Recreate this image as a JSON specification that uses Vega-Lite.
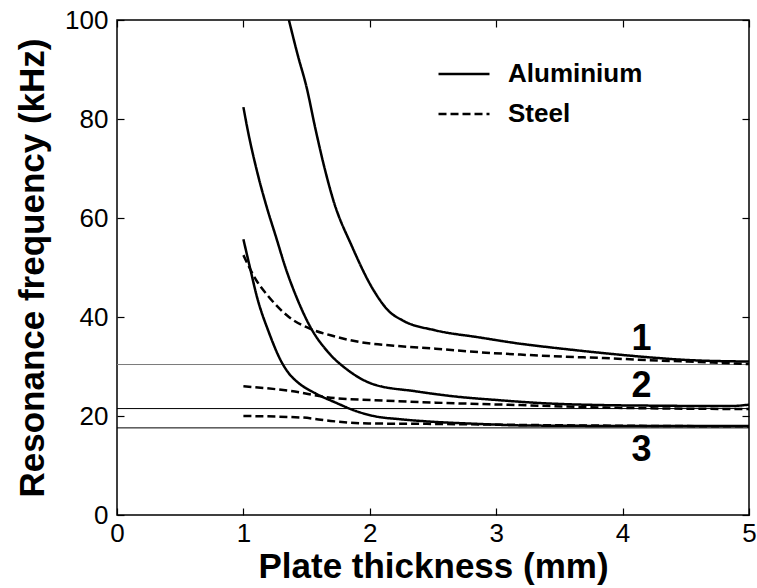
{
  "$schema": "https://vega.github.io/schema/vega-lite/v6.json",
  "width": 632,
  "height": 495,
  "autosize": {"type": "none"},
  "padding": {"left": 117, "top": 20, "right": 8, "bottom": 73},
  "background": "white",
  "config": {
    "view": {"stroke": "black", "strokeWidth": 1.5},
    "font": "Liberation Sans",
    "axis": {"grid": false, "domain": false, "offset": -7, "tickColor": "black", "tickSize": 7, "tickWidth": 1.2, "labelFlush": false, "labelOverlap": false, "labelColor": "black", "labelFont": "Liberation Sans", "labelFontSize": 26, "titleFont": "Liberation Sans", "titleFontWeight": "bold", "titleFontSize": 35, "titleColor": "black"}
  },
  "resolve": {"axis": {"x": "independent", "y": "independent"}},
  "datasets": {
    "curves": [
      {"t": 1.36, "f": 100, "mode": "Al1", "material": "Aluminium"},
      {"t": 1.43, "f": 92.9, "mode": "Al1", "material": "Aluminium"},
      {"t": 1.5, "f": 86.4, "mode": "Al1", "material": "Aluminium"},
      {"t": 1.57, "f": 78.0, "mode": "Al1", "material": "Aluminium"},
      {"t": 1.64, "f": 70.3, "mode": "Al1", "material": "Aluminium"},
      {"t": 1.71, "f": 63.7, "mode": "Al1", "material": "Aluminium"},
      {"t": 1.86, "f": 54.2, "mode": "Al1", "material": "Aluminium"},
      {"t": 2.03, "f": 45.4, "mode": "Al1", "material": "Aluminium"},
      {"t": 2.15, "f": 41.2, "mode": "Al1", "material": "Aluminium"},
      {"t": 2.26, "f": 39.3, "mode": "Al1", "material": "Aluminium"},
      {"t": 2.52, "f": 37.3, "mode": "Al1", "material": "Aluminium"},
      {"t": 2.86, "f": 35.9, "mode": "Al1", "material": "Aluminium"},
      {"t": 3.19, "f": 34.6, "mode": "Al1", "material": "Aluminium"},
      {"t": 3.52, "f": 33.6, "mode": "Al1", "material": "Aluminium"},
      {"t": 3.85, "f": 32.7, "mode": "Al1", "material": "Aluminium"},
      {"t": 4.19, "f": 31.9, "mode": "Al1", "material": "Aluminium"},
      {"t": 4.52, "f": 31.3, "mode": "Al1", "material": "Aluminium"},
      {"t": 5.0, "f": 31.0, "mode": "Al1", "material": "Aluminium"},

      {"t": 1.0, "f": 82.4, "mode": "Al2", "material": "Aluminium"},
      {"t": 1.03, "f": 78.3, "mode": "Al2", "material": "Aluminium"},
      {"t": 1.11, "f": 69.2, "mode": "Al2", "material": "Aluminium"},
      {"t": 1.18, "f": 62.6, "mode": "Al2", "material": "Aluminium"},
      {"t": 1.26, "f": 56.0, "mode": "Al2", "material": "Aluminium"},
      {"t": 1.33, "f": 50.2, "mode": "Al2", "material": "Aluminium"},
      {"t": 1.43, "f": 43.4, "mode": "Al2", "material": "Aluminium"},
      {"t": 1.54, "f": 37.5, "mode": "Al2", "material": "Aluminium"},
      {"t": 1.66, "f": 33.2, "mode": "Al2", "material": "Aluminium"},
      {"t": 1.83, "f": 29.2, "mode": "Al2", "material": "Aluminium"},
      {"t": 2.03, "f": 26.4, "mode": "Al2", "material": "Aluminium"},
      {"t": 2.36, "f": 25.0, "mode": "Al2", "material": "Aluminium"},
      {"t": 2.69, "f": 23.9, "mode": "Al2", "material": "Aluminium"},
      {"t": 3.02, "f": 23.2, "mode": "Al2", "material": "Aluminium"},
      {"t": 3.36, "f": 22.6, "mode": "Al2", "material": "Aluminium"},
      {"t": 3.85, "f": 22.2, "mode": "Al2", "material": "Aluminium"},
      {"t": 4.19, "f": 22.1, "mode": "Al2", "material": "Aluminium"},
      {"t": 4.85, "f": 22.0, "mode": "Al2", "material": "Aluminium"},
      {"t": 5.0, "f": 22.3, "mode": "Al2", "material": "Aluminium"},

      {"t": 1.0, "f": 55.7, "mode": "Al3", "material": "Aluminium"},
      {"t": 1.05, "f": 50.2, "mode": "Al3", "material": "Aluminium"},
      {"t": 1.11, "f": 43.8, "mode": "Al3", "material": "Aluminium"},
      {"t": 1.2, "f": 37.0, "mode": "Al3", "material": "Aluminium"},
      {"t": 1.3, "f": 31.0, "mode": "Al3", "material": "Aluminium"},
      {"t": 1.36, "f": 28.6, "mode": "Al3", "material": "Aluminium"},
      {"t": 1.43, "f": 26.8, "mode": "Al3", "material": "Aluminium"},
      {"t": 1.56, "f": 24.7, "mode": "Al3", "material": "Aluminium"},
      {"t": 1.73, "f": 22.7, "mode": "Al3", "material": "Aluminium"},
      {"t": 1.89, "f": 21.0, "mode": "Al3", "material": "Aluminium"},
      {"t": 2.03, "f": 20.0, "mode": "Al3", "material": "Aluminium"},
      {"t": 2.26, "f": 19.3, "mode": "Al3", "material": "Aluminium"},
      {"t": 2.52, "f": 18.8, "mode": "Al3", "material": "Aluminium"},
      {"t": 2.86, "f": 18.4, "mode": "Al3", "material": "Aluminium"},
      {"t": 3.19, "f": 18.1, "mode": "Al3", "material": "Aluminium"},
      {"t": 3.85, "f": 18.0, "mode": "Al3", "material": "Aluminium"},
      {"t": 4.52, "f": 18.0, "mode": "Al3", "material": "Aluminium"},
      {"t": 5.0, "f": 18.0, "mode": "Al3", "material": "Aluminium"},

      {"t": 1.0, "f": 52.5, "mode": "St1", "material": "Steel"},
      {"t": 1.1, "f": 47.5, "mode": "St1", "material": "Steel"},
      {"t": 1.2, "f": 44.1, "mode": "St1", "material": "Steel"},
      {"t": 1.36, "f": 40.0, "mode": "St1", "material": "Steel"},
      {"t": 1.53, "f": 37.6, "mode": "St1", "material": "Steel"},
      {"t": 1.69, "f": 36.3, "mode": "St1", "material": "Steel"},
      {"t": 1.93, "f": 34.9, "mode": "St1", "material": "Steel"},
      {"t": 2.19, "f": 34.2, "mode": "St1", "material": "Steel"},
      {"t": 2.52, "f": 33.6, "mode": "St1", "material": "Steel"},
      {"t": 2.86, "f": 32.9, "mode": "St1", "material": "Steel"},
      {"t": 3.19, "f": 32.4, "mode": "St1", "material": "Steel"},
      {"t": 3.52, "f": 32.0, "mode": "St1", "material": "Steel"},
      {"t": 3.85, "f": 31.7, "mode": "St1", "material": "Steel"},
      {"t": 4.19, "f": 31.3, "mode": "St1", "material": "Steel"},
      {"t": 4.52, "f": 31.0, "mode": "St1", "material": "Steel"},
      {"t": 5.0, "f": 30.5, "mode": "St1", "material": "Steel"},

      {"t": 1.0, "f": 26.0, "mode": "St2", "material": "Steel"},
      {"t": 1.36, "f": 25.1, "mode": "St2", "material": "Steel"},
      {"t": 1.69, "f": 23.7, "mode": "St2", "material": "Steel"},
      {"t": 2.03, "f": 23.2, "mode": "St2", "material": "Steel"},
      {"t": 2.52, "f": 22.7, "mode": "St2", "material": "Steel"},
      {"t": 3.19, "f": 22.2, "mode": "St2", "material": "Steel"},
      {"t": 3.85, "f": 21.7, "mode": "St2", "material": "Steel"},
      {"t": 5.0, "f": 21.4, "mode": "St2", "material": "Steel"},

      {"t": 1.0, "f": 20.0, "mode": "St3", "material": "Steel"},
      {"t": 1.46, "f": 19.7, "mode": "St3", "material": "Steel"},
      {"t": 1.69, "f": 19.0, "mode": "St3", "material": "Steel"},
      {"t": 1.99, "f": 18.5, "mode": "St3", "material": "Steel"},
      {"t": 2.52, "f": 18.4, "mode": "St3", "material": "Steel"},
      {"t": 3.19, "f": 18.2, "mode": "St3", "material": "Steel"},
      {"t": 5.0, "f": 17.9, "mode": "St3", "material": "Steel"}
    ],
    "grayline": [{"f": 30.4}],
    "blacklines": [{"f": 21.5}, {"f": 17.6}],
    "labels": [
      {"t": 4.15, "f": 35.5, "label": "1"},
      {"t": 4.15, "f": 26.0, "label": "2"},
      {"t": 4.15, "f": 13.2, "label": "3"}
    ]
  },
  "layer": [
    {
      "data": {"name": "grayline"},
      "mark": {"type": "rule", "color": "#7a7a7a", "strokeWidth": 1},
      "encoding": {
        "y": {"field": "f", "type": "quantitative", "scale": {"domain": [0, 100], "nice": false}, "axis": null}
      }
    },
    {
      "data": {"name": "blacklines"},
      "mark": {"type": "rule", "color": "black", "strokeWidth": 1},
      "encoding": {
        "y": {"field": "f", "type": "quantitative", "axis": null}
      }
    },
    {
      "data": {"name": "curves"},
      "mark": {"type": "line", "color": "black", "strokeWidth": 2.5, "clip": true, "interpolate": "monotone"},
      "encoding": {
        "x": {"field": "t", "type": "quantitative", "scale": {"domain": [0, 5], "nice": false}, "axis": {"values": [0, 1, 2, 3, 4, 5], "format": "d", "title": "Plate thickness (mm)", "titlePadding": 3, "labelPadding": 5}},
        "y": {"field": "f", "type": "quantitative", "axis": {"values": [0, 20, 40, 60, 80, 100], "title": "Resonance frequency (kHz)", "titlePadding": 14, "labelPadding": 9}},
        "detail": {"field": "mode"},
        "strokeDash": {
          "field": "material", "type": "nominal",
          "scale": {"domain": ["Aluminium", "Steel"], "range": [[1, 0], [8, 4]]},
          "legend": {"title": null, "orient": "none", "legendX": 320, "legendY": 27, "symbolType": "stroke", "symbolSize": 2600, "symbolStrokeWidth": 2.5, "symbolStrokeColor": "black", "labelFont": "Liberation Sans", "labelFontSize": 26, "labelFontWeight": "bold", "labelColor": "black", "labelOffset": 17, "rowPadding": -4}
        },
        "order": {"field": "t", "type": "quantitative"}
      }
    },
    {
      "data": {"name": "labels"},
      "mark": {"type": "text", "font": "Liberation Sans", "fontWeight": "bold", "fontSize": 36, "color": "black", "align": "center", "baseline": "middle"},
      "encoding": {
        "x": {"field": "t", "type": "quantitative", "axis": null},
        "y": {"field": "f", "type": "quantitative", "axis": null},
        "text": {"field": "label"}
      }
    },
    {
      "data": {"name": "labels"},
      "mark": {"type": "point", "opacity": 0},
      "encoding": {
        "x": {"field": "t", "type": "quantitative", "axis": {"orient": "top", "values": [0, 1, 2, 3, 4, 5], "labels": false, "title": null}},
        "y": {"field": "f", "type": "quantitative", "axis": {"orient": "right", "values": [0, 20, 40, 60, 80, 100], "labels": false, "title": null}}
      }
    }
  ]
}
